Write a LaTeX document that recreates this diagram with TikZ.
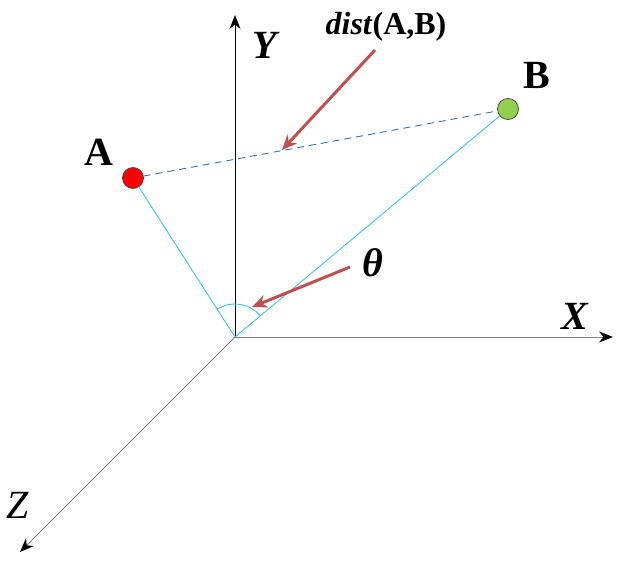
\documentclass[tikz,border=0pt]{standalone}
\usepackage{fontspec}
\setmainfont{Liberation Serif}
\usetikzlibrary{arrows.meta}

\definecolor{ptrred}{HTML}{C0504D}
\definecolor{legblue}{HTML}{3EC3F2}
\definecolor{dashblue}{HTML}{2E75B6}
\definecolor{ballgreen}{HTML}{92D050}
\newcommand\biglbl{\fontsize{40}{44}\selectfont}
\newcommand\distlbl{\fontsize{32}{36}\selectfont}

\tikzset{
	axis/.style={-{Stealth[length=14pt,width=11pt,color=black]}, line width=1pt},
	ptr/.style={-{Stealth[length=15pt,width=13pt]}, line width=3pt, draw=ptrred},
	ball/.style={circle, draw=black!70, line width=0.8pt, minimum size=21pt, inner sep=0pt},
	leg/.style={draw=legblue, line width=0.9pt},
}

\begin{document}
\begin{tikzpicture}[x=1pt,y=-1pt]
		\useasboundingbox (0,0) rectangle (629,570);
		% axes
		\coordinate (O) at (235,337);
		\coordinate (Ytip) at (235,15);
		\coordinate (Xtip) at (613,337);
		\coordinate (Ztip) at (20,552);
		\draw[axis, black] (O) -- (Ytip);
		\draw[axis, gray] (O) -- (Xtip);
		\draw[axis, gray] (O) -- (Ztip);
		\node (ylbl) at (265,45) {\biglbl\bfseries\itshape Y};
		\node (xlbl) at (575,316) {\biglbl\bfseries\itshape X};
		\node (zlbl) at (18,505) {\biglbl\itshape Z};
		% points
		\node[ball, fill=red] (A) at (133,178) {};
		\node[ball, fill=ballgreen] (B) at (508,109) {};
		\node (albl) at (99,152) {\biglbl\bfseries A};
		\node (blbl) at (537,75) {\biglbl\bfseries B};
		\draw[leg] (O) -- (A);
		\draw[leg] (O) -- (B);
		\draw[dashed, dashblue, line width=0.9pt, dash pattern=on 7pt off 5pt] (A) -- (B);
		\draw[leg] ([shift={(-122.7:33)}]O) arc[start angle=-122.7, end angle=-39.9, radius=33];
		% pointers
		\node (dlbl) at (386,27) {\distlbl\bfseries\textit{dist}(A,B)};
		\coordinate (dfrom) at (375,50);
		\coordinate (dto) at (282,150);
		\draw[ptr] (dfrom) -- (dto);
		\node (tlbl) at (373,263) {\biglbl\bfseries\itshape θ};
		\coordinate (tfrom) at (350,267);
		\coordinate (tto) at (252,307);
		\draw[ptr] (tfrom) -- (tto);
\end{tikzpicture}
\end{document}
